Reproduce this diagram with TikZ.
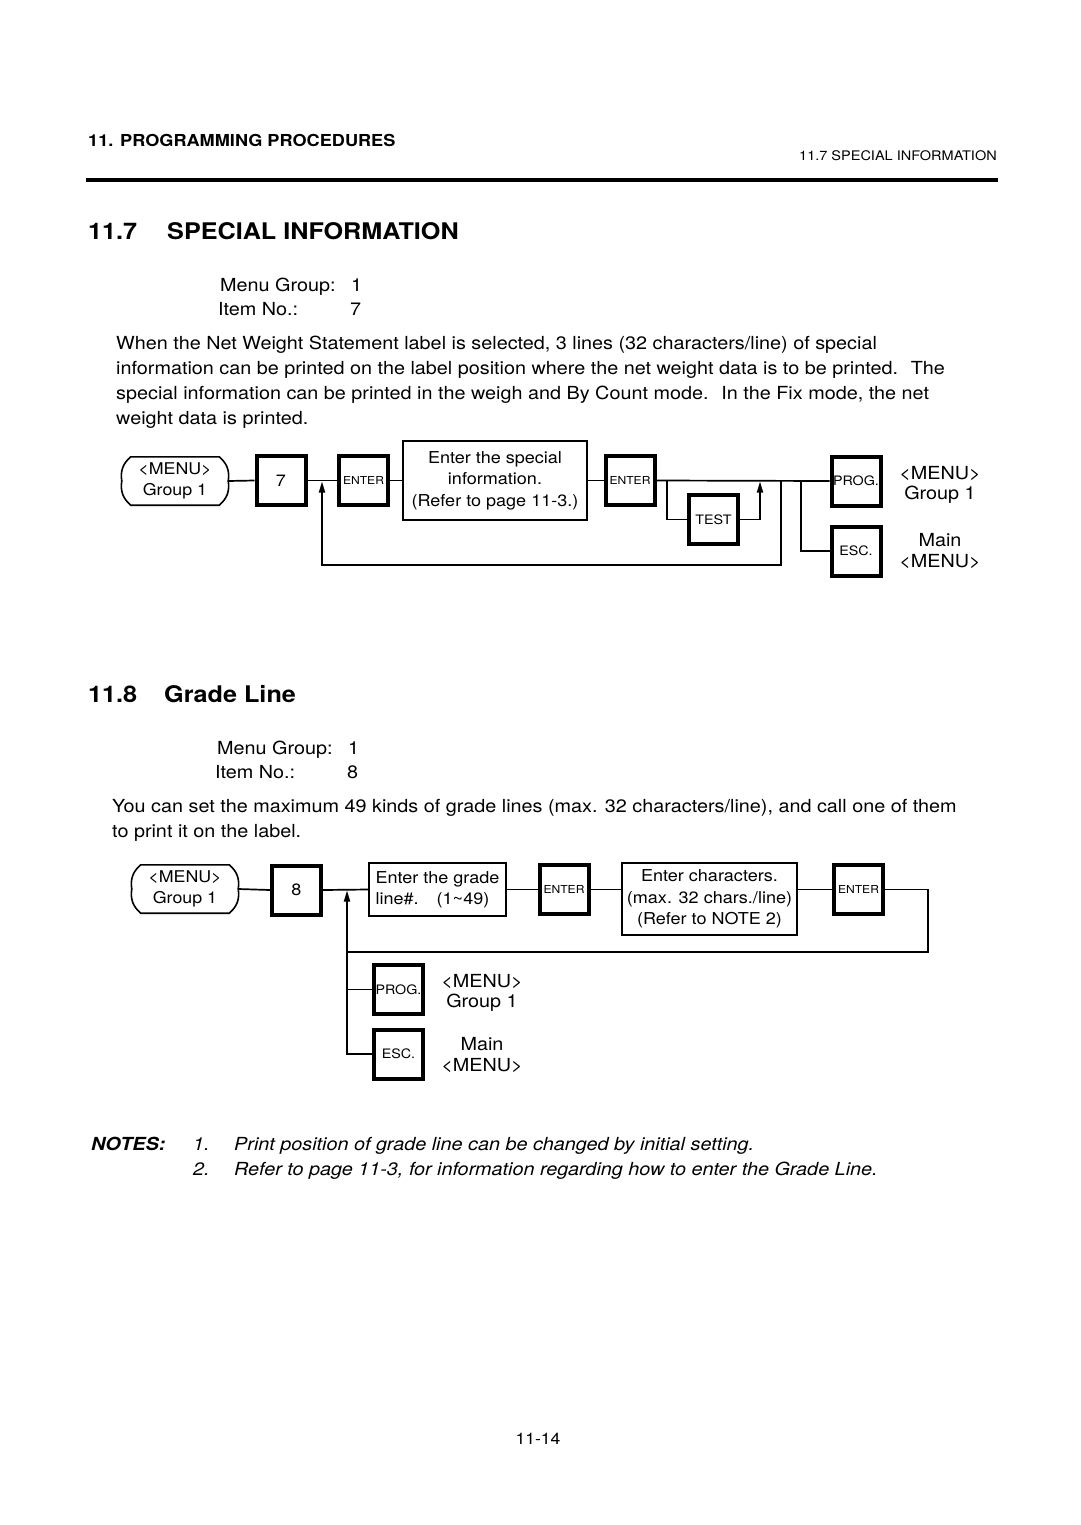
\documentclass[tikz,border=0pt]{standalone}
\usepackage{fontspec}
\setmainfont{TeX Gyre Heros}[FakeStretch=1.1]
\usetikzlibrary{arrows.meta}
\newcommand{\fs}[2]{\fontsize{#1}{#2}\selectfont}
\begin{document}
\begin{tikzpicture}[x=1pt,y=-1pt,
  txt/.style={anchor=base west,inner sep=0pt,font=\fs{18}{25}},
  keybox/.style={draw,line width=4pt,minimum width=49pt,minimum height=49pt,inner sep=0pt,font=\fs{13}{15}},
  entbox/.style={keybox,font=\fs{11}{14}},
  digbox/.style={keybox,font=\fs{16.4}{20}},
  infobox/.style={draw,line width=1.6pt,inner sep=0pt,align=center,font=\fs{16.4}{21.5}},
  menushape/.style={minimum width=106pt,minimum height=48pt,inner sep=0pt,align=center,font=\fs{16.2}{21}},
  outlabel/.style={align=center,inner sep=0pt,font=\fs{18}{20.5}},
  conn/.style={line width=1.7pt},
  arr/.style={conn,-{Triangle[length=11pt,width=6pt]}},
  mshape/.style={line width=1.6pt}]
\useasboundingbox (0,0) rectangle (1080,1525);
\fill[white] (0,0) rectangle (1080,1525);

% header
\node[txt,font=\bfseries\fs{16.5}{20}] (hdl) at (88,147) {11. PROGRAMMING PROCEDURES};
\node[txt,anchor=base east,font=\fs{13.2}{16}] (hdr) at (997,161) {11.7 SPECIAL INFORMATION};
\draw[line width=4pt] (86,180) -- (998,180);

% 11.7 title
\node[txt,font=\bfseries\fs{22.9}{28}] (t1n) at (88,239) {11.7};
\node[txt,font=\bfseries\fs{22.9}{28}] (t1) at (167,239) {SPECIAL INFORMATION};
\node[txt] (mg1) at (220,291) {Menu Group:};
\node[txt] (mg1v) at (351,291) {1};
\node[txt] (it1) at (218,315) {Item No.:};
\node[txt] (it1v) at (350,315) {7};
\node[txt] (p1a) at (116,349) {When the Net Weight Statement label is selected, 3 lines (32 characters/line) of special};
\node[txt] (p1b) at (116,374) {information can be printed on the label position where the net weight data is to be printed.~ The};
\node[txt] (p1c) at (116,399) {special information can be printed in the weigh and By Count mode.~ In the Fix mode, the net};
\node[txt] (p1d) at (116,424) {weight data is printed.};

% diagram 1
\node[menushape] (m1) at (175,481) {<MENU>\\Group 1};
\draw[mshape] ([xshift=9pt]m1.north west) -- ([xshift=-9pt]m1.north east)
  to[bend left=30] (m1.east) to[bend left=30] ([xshift=-9pt]m1.south east)
  -- ([xshift=9pt]m1.south west) to[bend left=30] (m1.west) to[bend left=30] cycle;
\node[digbox] (k7) at (281,480.5) {7};
\node[entbox] (en1) at (363.5,480.5) {ENTER};
\node[infobox,minimum width=184pt,minimum height=79pt] (tb1) at (495,480.5) {Enter the special\\information.\\(Refer to page 11-3.)};
\node[entbox] (en2) at (630,480.5) {ENTER};
\node[keybox] (test1) at (713.5,519.5) {TEST};
\node[keybox] (prog1) at (856,481) {PROG.};
\node[keybox] (esc1) at (856,551) {ESC.};
\node[outlabel] (lab1a) at (940,485) {<MENU>\\Group 1};
\node[outlabel] (lab1b) at (940,551) {Main\\<MENU>};

\coordinate (b1) at (667,480.5);
\coordinate (a1) at (760,481.5);
\coordinate (c1) at (781,480.5);
\coordinate (l1) at (781,565);
\coordinate (c2) at (322,481.5);
\coordinate (b2) at (801,480.5);

\draw[conn] (m1.east) -- (k7.west);
\draw[conn] (k7.east) -- (en1.west);
\draw[conn] (en1.east) -- (tb1.west);
\draw[conn] (tb1.east) -- (en2.west);
\draw[conn] (en2.east) -- (prog1.west);
\draw[conn] (b1) |- (test1.west);
\draw[arr] (test1.east) -| (a1);
\draw[arr] (c1) -- (l1) -| (c2);
\draw[conn] (b2) |- (esc1.west);

% 11.8 title
\node[txt,font=\bfseries\fs{22.9}{28}] (t2n) at (88,702) {11.8};
\node[txt,font=\bfseries\fs{22.9}{28}] (t2) at (164,702) {Grade Line};
\node[txt] (mg2) at (217,754) {Menu Group:};
\node[txt] (mg2v) at (348,754) {1};
\node[txt] (it2) at (215,778) {Item No.:};
\node[txt] (it2v) at (347,778) {8};
\node[txt] (p2a) at (112,812) {You can set the maximum 49 kinds of grade lines (max. 32 characters/line), and call one of them};
\node[txt] (p2b) at (112,837) {to print it on the label.};

% diagram 2
\node[menushape] (m2) at (185,889) {<MENU>\\Group 1};
\draw[mshape] ([xshift=9pt]m2.north west) -- ([xshift=-9pt]m2.north east)
  to[bend left=30] (m2.east) to[bend left=30] ([xshift=-9pt]m2.south east)
  -- ([xshift=9pt]m2.south west) to[bend left=30] (m2.west) to[bend left=30] cycle;
\node[digbox] (k8) at (296.5,890) {8};
\node[infobox,align=left,minimum width=137pt,minimum height=53pt,font=\fs{16.4}{21}] (tb2) at (437.5,889.5) {Enter the grade\\line\#.\hspace{1.1em}(1\textasciitilde 49)};
\node[entbox] (en3) at (564,889.5) {ENTER};
\node[infobox,minimum width=175pt,minimum height=72pt] (tb3) at (709.5,899) {Enter characters.\\(max. 32 chars./line)\\(Refer to NOTE 2)};
\node[entbox] (en4) at (858.5,889.5) {ENTER};
\node[keybox] (prog2) at (398.5,989.5) {PROG.};
\node[keybox] (esc2) at (398.5,1054) {ESC.};
\node[outlabel] (lab2a) at (482,993) {<MENU>\\Group 1};
\node[outlabel] (lab2b) at (482,1055) {Main\\<MENU>};

\coordinate (r1) at (928,889.5);
\coordinate (r2) at (928,952);
\coordinate (j2) at (347,952);
\coordinate (a2) at (347,890.5);

\draw[conn] (m2.east) -- (k8.west);
\draw[conn] (k8.east) -- (tb2.west);
\draw[conn] (tb2.east) -- (en3.west);
\draw[conn] (en3.east) -- (en3.east -| tb3.west);
\draw[conn] (tb3.east |- en4.west) -- (en4.west);
\draw[conn] (en4.east) -- (r1) -- (r2) -- (j2);
\draw[arr] (j2) -- (a2);
\draw[conn] (j2) |- (prog2.west);
\draw[conn] (j2) |- (esc2.west);

% notes
\node[txt,font=\bfseries\itshape\fs{18}{25}] (nt) at (91,1150) {NOTES:};
\node[txt,font=\itshape\fs{18}{25}] (n1) at (193,1150) {1.};
\node[txt,font=\itshape\fs{18}{25}] (n1t) at (234,1150) {Print position of grade line can be changed by initial setting.};
\node[txt,font=\itshape\fs{18}{25}] (n2) at (193,1175) {2.};
\node[txt,font=\itshape\fs{18}{25}] (n2t) at (234,1175) {Refer to page 11-3, for information regarding how to enter the Grade Line.};

% page number
\node[anchor=base,inner sep=0pt,font=\fs{16}{20}] (pg) at (538,1444) {11-14};
\end{tikzpicture}
\end{document}
